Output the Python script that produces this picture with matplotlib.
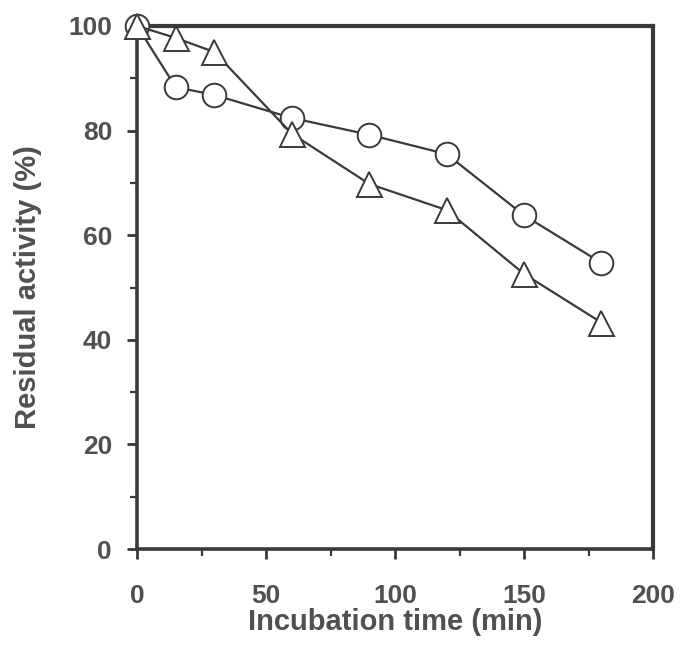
import numpy as np
import matplotlib.pyplot as plt
from matplotlib.ticker import MultipleLocator

# Incubation time (min)
time_min = [0, 15, 30, 60, 90, 120, 150, 180]
# Residual activity (%)
circle_activity = [100, 88.3, 86.8, 82.4, 79.2, 75.5, 63.8, 54.7]
triangle_activity = [100, 97.7, 95.0, 79.4, 69.8, 64.8, 52.6, 43.3]

x_ticks = [0, 50, 100, 150, 200]
y_ticks = [0, 20, 40, 60, 80, 100]

plt.rcParams['font.family'] = ['Liberation Sans', 'DejaVu Sans']
ink = '#3a3a3a'
text_col = '#505050'

fig = plt.figure(figsize=(6.83, 6.64), dpi=100)
ax = fig.add_axes([0.2006, 0.173, 0.7555, 0.788])

ax.plot(time_min, circle_activity, color=ink, lw=1.6, marker='o', ms=17,
        mfc='white', mec=ink, mew=1.4, clip_on=False, zorder=3)
ax.plot(time_min, triangle_activity, color=ink, lw=1.6, marker='^', ms=18,
        mfc='white', mec=ink, mew=1.4, clip_on=False, zorder=4)

ax.set_xlim(0, 200)
ax.set_ylim(0, 100)
ax.set_xticks(x_ticks)
ax.set_yticks(y_ticks)
ax.xaxis.set_minor_locator(MultipleLocator(25))
ax.yaxis.set_minor_locator(MultipleLocator(10))

for side in ['left', 'bottom']:
    ax.spines[side].set_linewidth(2.6)
    ax.spines[side].set_color(ink)
for side in ['top', 'right']:
    ax.spines[side].set_linewidth(3.0)
    ax.spines[side].set_color(ink)

ax.tick_params(axis='both', which='major', direction='out', length=7, width=2,
               color=ink, labelsize=19, labelcolor=text_col)
ax.tick_params(axis='both', which='minor', direction='out', length=5, width=1.6,
               color=ink)
ax.tick_params(axis='x', which='major', pad=18)
ax.tick_params(axis='y', which='major', pad=11)
for lab in ax.get_xticklabels() + ax.get_yticklabels():
    lab.set_fontweight('bold')

ax.set_xlabel('Incubation time (min)', fontsize=21, fontweight='bold',
              color=text_col, va='center')
ax.set_ylabel('Residual activity (%)', fontsize=21, fontweight='bold',
              color=text_col, va='center')
ax.xaxis.set_label_coords(0.5, -0.14)
ax.yaxis.set_label_coords(-0.211, 0.5)

fig.savefig('out.png', dpi=100)
